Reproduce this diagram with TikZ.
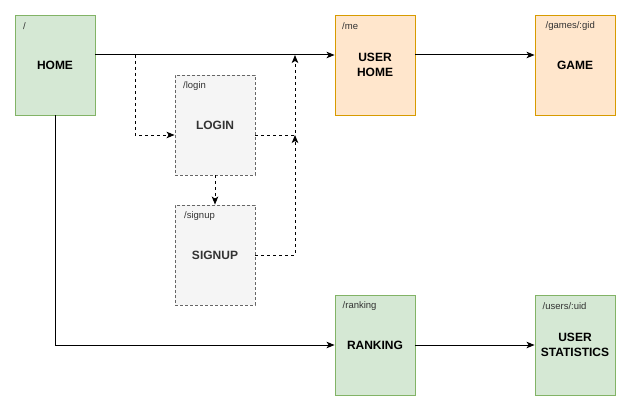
\documentclass[tikz,border=0pt]{standalone}
\usepackage{fontspec}
\setmainfont{Liberation Sans}
\usetikzlibrary{arrows.meta}
\definecolor{gfill}{HTML}{D5E8D4}
\definecolor{gline}{HTML}{82B366}
\definecolor{ofill}{HTML}{FFE6CC}
\definecolor{oline}{HTML}{D79B00}
\definecolor{kfill}{HTML}{F5F5F5}
\definecolor{kline}{HTML}{666666}
\definecolor{ktext}{HTML}{333333}
\tikzset{
  page/.style={rectangle, minimum width=80pt, minimum height=100pt, inner sep=0pt, line width=0.9pt,
    font=\fontsize{12}{15}\selectfont\bfseries, align=center},
  greenpage/.style={page, fill=gfill, draw=gline},
  orangepage/.style={page, fill=ofill, draw=oline},
  graypage/.style={page, fill=kfill, draw=kline, dash pattern=on 3pt off 2pt, text=ktext},
  route/.style={font=\fontsize{9.5}{11}\selectfont, anchor=west, inner sep=0pt, text=ktext},
  link/.style={line width=1pt, -{Stealth[length=8pt,width=6.5pt,inset=2pt]}},
  dlink/.style={link, dash pattern=on 3pt off 3pt},
  plain/.style={line width=1pt},
}
\begin{document}
\begin{tikzpicture}[x=1pt,y=-1pt]
\useasboundingbox (0,0) rectangle (632,412);
\node[greenpage] (home) at (55,65) {HOME};
\node[orangepage] (user) at (375,65) {USER\\HOME};
\node[orangepage] (game) at (575,65) {GAME};
\node[graypage] (login) at (215,125) {LOGIN};
\node[graypage] (signup) at (215,255) {SIGNUP};
\node[greenpage] (ranking) at (375,345) {RANKING};
\node[greenpage] (stats) at (575,345) {USER\\STATISTICS};

\node[route] (rhome) at (23,26) {/};
\node[route] (rme) at (342,26) {/me};
\node[route] (rgame) at (545.5,26) {/games/:gid};
\node[route] (rlogin) at (183,86) {/login};
\node[route] (rsignup) at (184,216) {/signup};
\node[route] (rrank) at (342.5,306) {/ranking};
\node[route] (rstats) at (542.5,306) {/users/:uid};

\coordinate (b1) at (135,55);
\coordinate (j1) at (295,135);
\coordinate (j2) at (295,55);
\coordinate (j3) at (295,255);

\draw[link] ([yshift=10pt]home.east) -- ([yshift=10pt]user.west);
\draw[link] ([yshift=10pt]user.east) -- ([yshift=10pt]game.west);
\draw[link] (home.south) |- (ranking.west);
\draw[link] (ranking.east) -- (stats.west);
\draw[dlink] (b1) |- ([yshift=-10pt]login.west);
\draw[dlink] (login.south) -- (signup.north);
\draw[dlink] ([yshift=-10pt]login.east) -- (j1) -- (j2);
\draw[dlink] (signup.east) -- (j3) -- (j1);
\end{tikzpicture}
\end{document}
